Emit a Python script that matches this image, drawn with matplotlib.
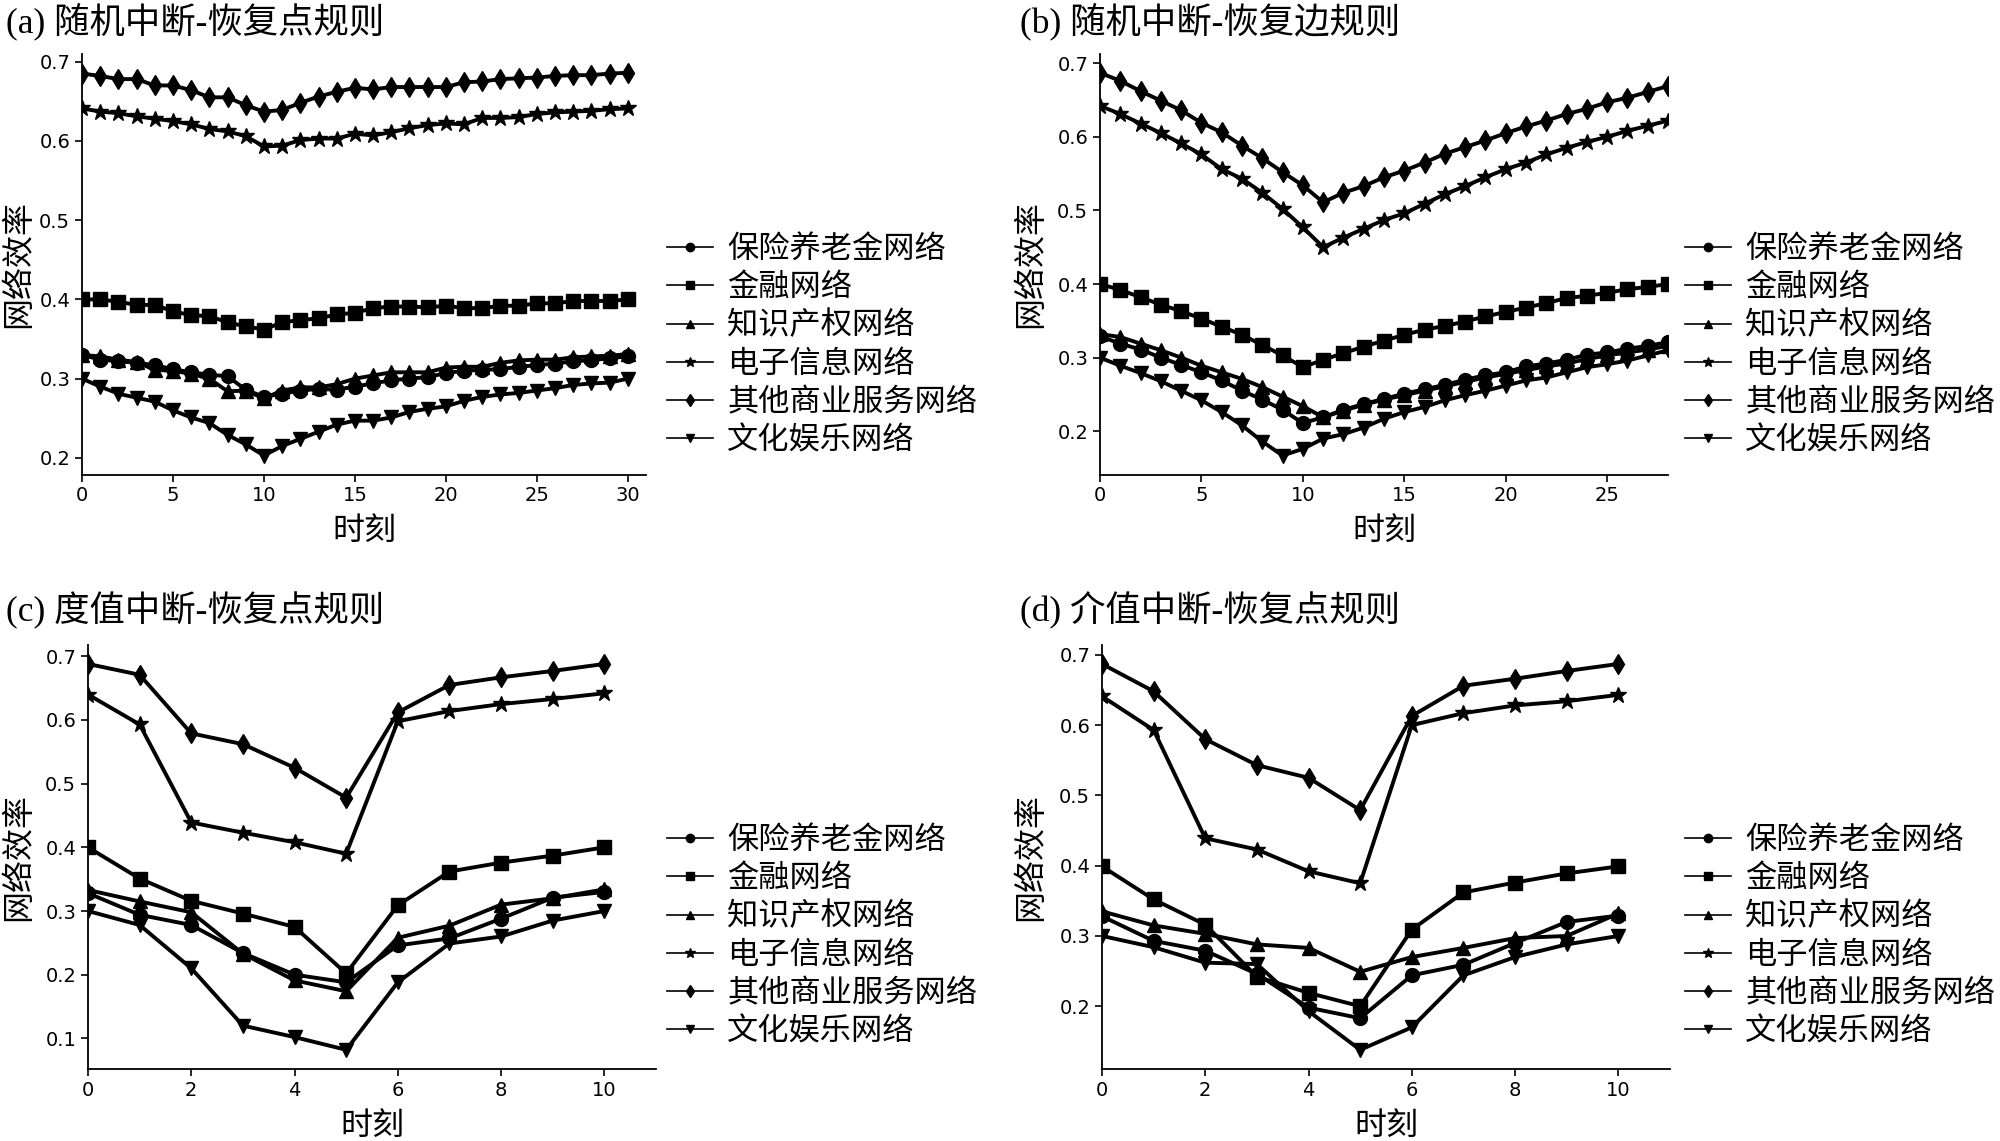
import numpy as np
import matplotlib
matplotlib.use("Agg")
import matplotlib.pyplot as plt

plt.rcParams['font.family'] = ['Noto Sans CJK SC', 'DejaVu Sans']
plt.rcParams['axes.unicode_minus'] = False

names = ['保险养老金网络', '金融网络', '知识产权网络', '电子信息网络', '其他商业服务网络', '文化娱乐网络']
markers = ['o', 's', '^', '*', 'd', 'v']

# (a) 随机中断-恢复点规则, t = 0..30
a_pension = [0.330, 0.324, 0.322, 0.320, 0.317, 0.312, 0.308, 0.305, 0.303, 0.286, 0.277,
             0.281, 0.285, 0.287, 0.286, 0.290, 0.294, 0.298, 0.300, 0.302, 0.307,
             0.310, 0.311, 0.312, 0.315, 0.317, 0.319, 0.322, 0.323, 0.326, 0.328]
a_finance = [0.400, 0.400, 0.397, 0.393, 0.393, 0.385, 0.380, 0.379, 0.371, 0.366, 0.362,
             0.371, 0.374, 0.376, 0.381, 0.383, 0.389, 0.391, 0.391, 0.390, 0.392,
             0.389, 0.389, 0.392, 0.392, 0.395, 0.395, 0.398, 0.398, 0.398, 0.400]
a_ip = [0.330, 0.328, 0.324, 0.321, 0.311, 0.310, 0.306, 0.300, 0.284, 0.285, 0.275,
        0.285, 0.289, 0.289, 0.293, 0.300, 0.304, 0.308, 0.308, 0.308, 0.314,
        0.315, 0.315, 0.320, 0.323, 0.324, 0.324, 0.327, 0.328, 0.329, 0.331]
a_elec = [0.641, 0.637, 0.635, 0.631, 0.628, 0.625, 0.621, 0.615, 0.612, 0.606, 0.593,
          0.594, 0.601, 0.603, 0.603, 0.609, 0.607, 0.611, 0.616, 0.620, 0.622,
          0.621, 0.629, 0.629, 0.630, 0.634, 0.636, 0.637, 0.638, 0.640, 0.641]
a_other = [0.685, 0.682, 0.678, 0.678, 0.670, 0.670, 0.664, 0.655, 0.655, 0.645, 0.637,
           0.639, 0.648, 0.656, 0.662, 0.667, 0.665, 0.668, 0.668, 0.668, 0.668,
           0.674, 0.675, 0.678, 0.679, 0.680, 0.682, 0.683, 0.683, 0.685, 0.686]
a_culture = [0.300, 0.290, 0.281, 0.276, 0.271, 0.260, 0.251, 0.244, 0.229, 0.217, 0.203,
             0.215, 0.224, 0.233, 0.242, 0.247, 0.247, 0.251, 0.258, 0.262, 0.265,
             0.272, 0.277, 0.280, 0.282, 0.285, 0.288, 0.292, 0.294, 0.295, 0.300]

# (b) 随机中断-恢复边规则, t = 0..28
b_pension = [0.329, 0.319, 0.311, 0.300, 0.290, 0.280, 0.269, 0.255, 0.243, 0.229, 0.211,
             0.219, 0.229, 0.237, 0.244, 0.251, 0.257, 0.263, 0.270, 0.276, 0.280,
             0.288, 0.292, 0.297, 0.304, 0.307, 0.312, 0.316, 0.321]
b_finance = [0.400, 0.392, 0.382, 0.372, 0.363, 0.353, 0.342, 0.331, 0.317, 0.303, 0.287,
             0.297, 0.306, 0.315, 0.323, 0.331, 0.338, 0.343, 0.349, 0.356, 0.362,
             0.368, 0.374, 0.381, 0.384, 0.388, 0.393, 0.396, 0.400]
b_ip = [0.332, 0.328, 0.319, 0.310, 0.300, 0.289, 0.280, 0.271, 0.260, 0.247, 0.234,
        0.219, 0.228, 0.236, 0.243, 0.249, 0.255, 0.261, 0.267, 0.273, 0.278,
        0.283, 0.288, 0.292, 0.298, 0.303, 0.307, 0.311, 0.316]
b_elec = [0.642, 0.631, 0.618, 0.605, 0.591, 0.576, 0.556, 0.543, 0.524, 0.502, 0.477,
          0.450, 0.463, 0.475, 0.487, 0.496, 0.509, 0.522, 0.533, 0.545, 0.556,
          0.565, 0.576, 0.585, 0.593, 0.600, 0.608, 0.615, 0.622]
b_other = [0.687, 0.676, 0.662, 0.649, 0.636, 0.619, 0.606, 0.588, 0.571, 0.552, 0.534,
           0.511, 0.524, 0.533, 0.545, 0.554, 0.565, 0.577, 0.586, 0.595, 0.605,
           0.614, 0.622, 0.631, 0.638, 0.647, 0.653, 0.661, 0.669]
b_culture = [0.300, 0.289, 0.279, 0.268, 0.255, 0.242, 0.226, 0.208, 0.186, 0.167, 0.176,
             0.190, 0.196, 0.205, 0.217, 0.226, 0.233, 0.242, 0.249, 0.255, 0.262,
             0.269, 0.273, 0.280, 0.287, 0.291, 0.296, 0.303, 0.310]

# (c) 度值中断-恢复点规则, t = 0..10
c_pension = [0.328, 0.294, 0.278, 0.234, 0.200, 0.188, 0.246, 0.257, 0.288, 0.321, 0.330]
c_finance = [0.400, 0.351, 0.316, 0.296, 0.275, 0.202, 0.309, 0.362, 0.376, 0.387, 0.400]
c_ip = [0.333, 0.315, 0.298, 0.233, 0.191, 0.174, 0.258, 0.277, 0.310, 0.320, 0.334]
c_elec = [0.640, 0.593, 0.439, 0.423, 0.408, 0.390, 0.598, 0.614, 0.625, 0.633, 0.642]
c_other = [0.688, 0.671, 0.579, 0.562, 0.525, 0.478, 0.612, 0.655, 0.667, 0.677, 0.688]
c_culture = [0.300, 0.278, 0.210, 0.120, 0.102, 0.082, 0.188, 0.249, 0.260, 0.285, 0.300]

# (d) 介值中断-恢复点规则, t = 0..10
d_pension = [0.328, 0.293, 0.279, 0.246, 0.198, 0.183, 0.244, 0.259, 0.290, 0.320, 0.329]
d_finance = [0.399, 0.352, 0.316, 0.242, 0.219, 0.200, 0.309, 0.362, 0.376, 0.389, 0.399]
d_ip = [0.335, 0.315, 0.303, 0.288, 0.283, 0.249, 0.270, 0.283, 0.297, 0.300, 0.332]
d_elec = [0.641, 0.593, 0.439, 0.423, 0.392, 0.375, 0.600, 0.617, 0.628, 0.634, 0.643]
d_other = [0.687, 0.648, 0.580, 0.543, 0.525, 0.479, 0.613, 0.656, 0.666, 0.677, 0.687]
d_culture = [0.300, 0.284, 0.262, 0.260, 0.193, 0.138, 0.170, 0.244, 0.270, 0.288, 0.300]

panels = [
    ('(a) 随机中断-恢复点规则', [a_pension, a_finance, a_ip, a_elec, a_other, a_culture], 31, [0, 5, 10, 15, 20, 25, 30]),
    ('(b) 随机中断-恢复边规则', [b_pension, b_finance, b_ip, b_elec, b_other, b_culture], 28, [0, 5, 10, 15, 20, 25]),
    ('(c) 度值中断-恢复点规则', [c_pension, c_finance, c_ip, c_elec, c_other, c_culture], 11, [0, 2, 4, 6, 8, 10]),
    ('(d) 介值中断-恢复点规则', [d_pension, d_finance, d_ip, d_elec, d_other, d_culture], 11, [0, 2, 4, 6, 8, 10]),
]

boxes = [[0.041, 0.584, 0.282, 0.369], [0.550, 0.584, 0.284, 0.369],
         [0.044, 0.063, 0.284, 0.372], [0.551, 0.063, 0.284, 0.372]]
title_pos = [(0.003, 0.981), (0.510, 0.981), (0.003, 0.465), (0.510, 0.465)]
leg_pos = [(0.327, 0.698), (0.836, 0.698), (0.327, 0.180), (0.836, 0.180)]
ylab_x = [-0.085, -0.095, -0.095, -0.099]

fig = plt.figure(figsize=(20, 11.41), dpi=100)

for i, (title, series, xmax, xt) in enumerate(panels):
    ax = fig.add_axes(boxes[i])
    for s, nm, mk in zip(series, names, markers):
        t = np.arange(len(s))
        ms = 12 if mk == '*' else 10
        ax.plot(t, s, color='black', marker=mk, markersize=ms, linewidth=2.8, label=nm)
    ax.set_xlim(0, xmax)
    ax.set_xticks(xt)
    ax.spines['top'].set_visible(False)
    ax.spines['right'].set_visible(False)
    ax.spines['left'].set_linewidth(1.3)
    ax.spines['bottom'].set_linewidth(1.3)
    ax.tick_params(labelsize=14, width=1.2, length=5)
    for lab in ax.get_xticklabels() + ax.get_yticklabels():
        lab.set_family('DejaVu Sans')
    ax.set_ylabel('网络效率', fontsize=23)
    ax.yaxis.set_label_coords(ylab_x[i], 0.5)
    ax.set_xlabel('时刻', fontsize=23, labelpad=7)
    fig.text(title_pos[i][0], title_pos[i][1], title, fontsize=25.5, va='center', ha='left',
             family=['Liberation Serif', 'Noto Sans CJK SC'])
    handles, labels = ax.get_legend_handles_labels()
    leg = fig.legend(handles, labels, loc='center left', bbox_to_anchor=leg_pos[i],
                     frameon=False, fontsize=22.5, markerscale=0.6, handlelength=1.5,
                     handletextpad=0.45, labelspacing=0.2, borderaxespad=0)
    for h in leg.legend_handles:
        h.set_linewidth(1.2)

fig.savefig('out.png', dpi=100)
